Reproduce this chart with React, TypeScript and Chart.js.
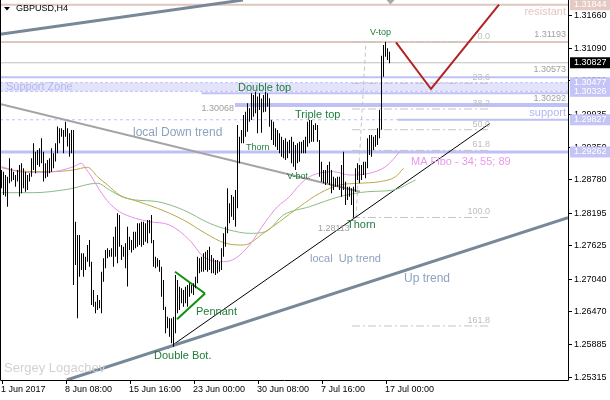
import React, { useEffect, useRef } from "react";
import { Chart, registerables } from "chart.js";

Chart.register(...registerables);

const FONT = "'Liberation Sans', Arial, sans-serif";

// GBPUSD H4 bars, index 0 = 1 Jun 2017 00:00
const highs = [
  1.28946, 1.28917, 1.28859, 1.28829, 1.29151, 1.28976, 1.28917, 1.28859, 1.28946, 1.29034,
  1.29063, 1.28976, 1.28917, 1.28859, 1.28888, 1.29151, 1.29414, 1.29268, 1.29297, 1.29326,
  1.29502, 1.29268, 1.29063, 1.29122, 1.29151, 1.29326, 1.29239, 1.29414, 1.29707, 1.29677,
  1.29677, 1.29648, 1.29794, 1.29677, 1.2959, 1.29648, 1.29648, 1.2804, 1.27806, 1.27806,
  1.27484, 1.27484, 1.27426, 1.27631, 1.27718, 1.27338, 1.26841, 1.26636, 1.26753, 1.26666,
  1.27163, 1.27397, 1.27543, 1.27572, 1.27543, 1.27572, 1.27777, 1.27952, 1.28186, 1.28157,
  1.27631, 1.27601, 1.2766, 1.27952, 1.27777, 1.2772, 1.27864, 1.27864, 1.2801, 1.2801,
  1.2804, 1.2804, 1.2801, 1.28069, 1.28069, 1.28157, 1.27718, 1.27426, 1.27396, 1.27367,
  1.2725, 1.27016, 1.26548, 1.26373, 1.26344, 1.26344, 1.26373, 1.27104, 1.27016, 1.26899,
  1.2687, 1.26841, 1.26899, 1.26929, 1.26958, 1.26929, 1.26958, 1.27075, 1.27426, 1.27396,
  1.27426, 1.27484, 1.27513, 1.27543, 1.27601, 1.27455, 1.27396, 1.27367, 1.27367, 1.27338,
  1.27572, 1.27835, 1.27952, 1.28624, 1.28361, 1.28507, 1.28478, 1.28595, 1.29736, 1.29531,
  1.29648, 1.29911, 1.29969, 1.30116, 1.30028, 1.30291, 1.30262, 1.3032, 1.30233, 1.30291,
  1.302, 1.3026, 1.3032, 1.30291, 1.30203, 1.29823, 1.29794, 1.29677, 1.29648, 1.29589,
  1.29531, 1.29472, 1.29501, 1.29443, 1.29472, 1.29531, 1.29443, 1.29384, 1.29414, 1.29443,
  1.29443, 1.29472, 1.29531, 1.29794, 1.29823, 1.29823, 1.29735, 1.29765, 1.29735, 1.29472,
  1.29092, 1.28946, 1.28946, 1.29034, 1.29092, 1.28946, 1.28829, 1.288, 1.28829, 1.28829,
  1.29034, 1.29267, 1.28741, 1.28653, 1.28653, 1.28624, 1.28653, 1.28975, 1.29063, 1.29034,
  1.29034, 1.29092, 1.29092, 1.29501, 1.2956, 1.2956, 1.29531, 1.2956, 1.29677, 1.29998,
  1.3095, 1.31139, 1.31193, 1.3108, 1.31022,
];
const lows = [
  1.28625, 1.28508, 1.28479, 1.28303, 1.28712, 1.28742, 1.28771, 1.28654, 1.28742, 1.28479,
  1.28537, 1.28625, 1.28566, 1.28595, 1.28742, 1.28829, 1.28946, 1.28888, 1.29034, 1.29005,
  1.29063, 1.28742, 1.288, 1.28829, 1.28888, 1.28917, 1.28976, 1.29093, 1.29239, 1.29414,
  1.29531, 1.29239, 1.29531, 1.29356, 1.2918, 1.29239, 1.26929, 1.2728, 1.26344, 1.27075,
  1.27192, 1.27075, 1.27192, 1.27338, 1.2725, 1.26578, 1.26549, 1.26432, 1.2649, 1.26519,
  1.26432, 1.26987, 1.27221, 1.27397, 1.27426, 1.27426, 1.2725, 1.27426, 1.27309, 1.27601,
  1.27367, 1.27426, 1.27221, 1.269, 1.27543, 1.275, 1.27543, 1.27572, 1.27601, 1.2763,
  1.27601, 1.2763, 1.27689, 1.2766, 1.27835, 1.2766, 1.2725, 1.27221, 1.2725, 1.27162,
  1.26724, 1.2649, 1.26081, 1.26168, 1.26022, 1.25905, 1.25847, 1.26081, 1.26431, 1.2649,
  1.26607, 1.26548, 1.26607, 1.26548, 1.26724, 1.26782, 1.26753, 1.2687, 1.26958, 1.27133,
  1.27162, 1.27162, 1.27192, 1.27162, 1.27192, 1.27133, 1.27133, 1.27104, 1.27133, 1.27162,
  1.27192, 1.27426, 1.27601, 1.27835, 1.2801, 1.28127, 1.28069, 1.27952, 1.28274, 1.29063,
  1.29414, 1.29414, 1.29531, 1.29619, 1.29794, 1.29823, 1.29882, 1.2994, 1.29589, 1.29999,
  1.296, 1.2996, 1.29969, 1.30057, 1.29706, 1.29472, 1.29384, 1.29355, 1.29297, 1.29238,
  1.2918, 1.29151, 1.29121, 1.29151, 1.29238, 1.29063, 1.29004, 1.28946, 1.29063, 1.29092,
  1.29238, 1.29238, 1.29238, 1.29355, 1.29414, 1.29443, 1.29443, 1.29648, 1.29443, 1.28829,
  1.28741, 1.28712, 1.28683, 1.28712, 1.28683, 1.28537, 1.28595, 1.28653, 1.28653, 1.28595,
  1.28478, 1.28595, 1.28332, 1.2842, 1.28478, 1.28332, 1.28113, 1.28566, 1.2877, 1.28712,
  1.2877, 1.28858, 1.288, 1.28975, 1.29209, 1.2918, 1.29297, 1.29355, 1.29384, 1.29501,
  1.2965, 1.30583, 1.30934, 1.30876, 1.30817,
];

// Moving averages (shifted): bar index / price
const ma34Idx = [0, 9, 19, 29, 36, 40, 42, 45, 49, 54, 59, 67, 74, 84, 94, 101, 111, 117, 124, 132, 138, 144, 149, 154, 166, 174, 184, 192, 197, 199];
const ma34Val = [1.29004, 1.28916, 1.28899, 1.28934, 1.29004, 1.29064, 1.28976, 1.28828, 1.28595, 1.28362, 1.28214, 1.28099, 1.28039, 1.27981, 1.27718, 1.27425, 1.27337, 1.27397, 1.2763, 1.28039, 1.28302, 1.28478, 1.28683, 1.28828, 1.28916, 1.28858, 1.28888, 1.29004, 1.29179, 1.29267];
const ma55Idx = [0, 9, 24, 36, 43, 48, 53, 59, 67, 78, 91, 102, 112, 121, 132, 139, 149, 159, 169, 179, 189, 197, 201];
const ma55Val = [1.28986, 1.28928, 1.28916, 1.28946, 1.28993, 1.28828, 1.28683, 1.28507, 1.28407, 1.28274, 1.28069, 1.27835, 1.2766, 1.2763, 1.27864, 1.28039, 1.28302, 1.28537, 1.28683, 1.28713, 1.28741, 1.28828, 1.28976];
const ma89Idx = [0, 16, 33, 48, 54, 61, 67, 78, 91, 104, 114, 124, 132, 141, 154, 169, 183, 196, 207];
const ma89Val = [1.28548, 1.28548, 1.28607, 1.28713, 1.28595, 1.28467, 1.2842, 1.2839, 1.28244, 1.28011, 1.27893, 1.27835, 1.27864, 1.28156, 1.28302, 1.28478, 1.28565, 1.28595, 1.28771];

// Axes
const timeTickIndex = [0, 32, 64, 96, 128, 160, 192];
const timeTickLabels = ["1 Jun 2017", "8 Jun 08:00", "15 Jun 16:00", "23 Jun 00:00", "30 Jun 08:00", "7 Jul 16:00", "17 Jul 00:00"];
const priceTicks = [1.3166, 1.3109, 1.3052, 1.29935, 1.2935, 1.2878, 1.28195, 1.27625, 1.2704, 1.2647, 1.25885, 1.25315];

// Horizontal levels
const resistantLevel = 1.31844;
const vTopLevel = 1.31193;
const bidPrice = 1.30827;
const level30573 = 1.30573;
const zoneTop = 1.30477;
const zoneBottom = 1.30326;
const level30292 = 1.30292;
const level30068 = 1.30085;
const supportLevel = 1.29827;
const support2Level = 1.29262;

// Fibonacci retracement
const fibLevels = [1.31193, 1.30466, 1.30016, 1.29653, 1.2929, 1.28113, 1.2621];
const fibNames = ["0.0", "23.6", "38.2", "50.0", "61.8", "100.0", "161.8"];
const fibFrom = 175.25;
const fibTo = 244.25;

// Trend lines: [barIndex, price]
const upTrend = [[32.6, 1.25262], [283.25, 1.28111]];
const topChannel = [[-0.75, 1.31327], [120.75, 1.31928]];
const localDown = [[-0.75, 1.30104], [179.25, 1.28565]];
const localUp = [[83.25, 1.25818], [244.25, 1.29765]];
const pennantUpper = [[86.75, 1.27162], [101.75, 1.26779]];
const pennantLower = [[87.75, 1.26327], [101.75, 1.26779]];
const forecastV = [[197.25, 1.31183], [214.75, 1.30367], [248.75, 1.31846]];
const fibBase = [[177.25, 1.28113], [182.25, 1.31193]];

const X_MIN = -0.75;
const X_MAX = 283.25;
const Y_MIN = 1.25262;
const Y_MAX = 1.31928;

const LAV = "#bfc0f6";
const PINK = "#e0c6be";
const GREEN_TXT = "#1f7d3a";
const SLATE_TXT = "#8ea2be";

// Text annotations anchored at [barIndex, price]
const notes: { t: string; i: number; p: number; c: string; s: number; a?: CanvasTextAlign }[] = [
  { t: "Support Zone", i: 2.25, p: 1.30411, c: "#b4b6f0", s: 11 },
  { t: "local Down trend", i: 65.75, p: 1.29595, c: SLATE_TXT, s: 12 },
  { t: "Double top", i: 118.25, p: 1.30385, c: GREEN_TXT, s: 11 },
  { t: "1.30068", i: 100, p: 1.30028, c: "#a0a0a0", s: 9 },
  { t: "Triple top", i: 146.75, p: 1.29911, c: GREEN_TXT, s: 11 },
  { t: "Thorn", i: 122.25, p: 1.29332, c: GREEN_TXT, s: 9 },
  { t: "V-bot.", i: 142.75, p: 1.28823, c: GREEN_TXT, s: 9 },
  { t: "1.28113", i: 158.25, p: 1.27916, c: "#a0a0a0", s: 9 },
  { t: "Thorn", i: 172.75, p: 1.27981, c: GREEN_TXT, s: 11 },
  { t: "local  Up trend", i: 154.25, p: 1.27385, c: SLATE_TXT, s: 11 },
  { t: "Up trend", i: 201.25, p: 1.27042, c: SLATE_TXT, s: 12 },
  { t: "Pennant", i: 97.25, p: 1.26455, c: GREEN_TXT, s: 11 },
  { t: "Double Bot.", i: 76.25, p: 1.25683, c: GREEN_TXT, s: 11 },
  { t: "Sergey Logachev", i: 1.25, p: 1.25472, c: "#d2d2d2", s: 13 },
  { t: "V-top", i: 184.25, p: 1.31349, c: GREEN_TXT, s: 9 },
  { t: "MA Fibo - 34; 55; 89", i: 204.75, p: 1.29086, c: "#e89ae8", s: 11 },
  { t: "resistant", i: 282.25, p: 1.31723, c: "#e2c6be", s: 11, a: "right" },
  { t: "support", i: 282.25, p: 1.29946, c: "#b4b6f0", s: 11, a: "right" },
  { t: "1.31193", i: 282.25, p: 1.31327, c: "#a0a0a0", s: 9, a: "right" },
  { t: "1.30573", i: 282.25, p: 1.307, c: "#a0a0a0", s: 9, a: "right" },
  { t: "1.30292", i: 282.25, p: 1.30192, c: "#a0a0a0", s: 9, a: "right" },
];

// Price marks on the right axis
const markValues = [resistantLevel, bidPrice, zoneTop, zoneBottom, supportLevel, support2Level];
const markBg = ["#e4cac2", "#000000", "#c4c5f6", "#c4c5f6", "#c4c5f6", "#c4c5f6"];

const pts = (arr: number[][]) => arr.map(([x, y]) => ({ x, y }));
const seg = (arr: number[][], color: string, width: number, dash: number[] = [], order = 5) => ({
  type: "line" as const,
  data: pts(arr),
  borderColor: color,
  borderWidth: width,
  borderDash: dash,
  pointRadius: 0,
  fill: false,
  tension: 0,
  order,
  borderCapStyle: "butt" as const,
});
const hline = (v: number, color: string, width: number, dash: number[] = [], from = X_MIN, to = X_MAX) =>
  seg([[from, v], [to, v]], color, width, dash, 6);
const ma = (idx: number[], val: number[], color: string) => ({
  type: "line" as const,
  data: idx.map((x, k) => ({ x, y: val[k] })),
  borderColor: color,
  borderWidth: 1,
  pointRadius: 0,
  fill: false,
  cubicInterpolationMode: "monotone" as const,
  order: 3,
});

const overlay = {
  id: "overlay",
  beforeDatasetsDraw(chart: any) {
    const { ctx, chartArea: a, scales } = chart;
    const y = scales.y;
    const t = y.getPixelForValue(zoneTop);
    const b = y.getPixelForValue(zoneBottom);
    ctx.save();
    ctx.fillStyle = "#e3e4fb";
    ctx.fillRect(a.left, t, a.right - a.left, b - t);
    ctx.restore();
  },
  afterDatasetsDraw(chart: any) {
    const { ctx, scales } = chart;
    const x = scales.x;
    const y = scales.y;
    ctx.save();
    ctx.textBaseline = "middle";
    notes.forEach((n) => {
      ctx.font = `${n.s}px ${FONT}`;
      ctx.fillStyle = n.c;
      ctx.textAlign = n.a || "left";
      ctx.fillText(n.t, x.getPixelForValue(n.i), y.getPixelForValue(n.p));
    });
    ctx.font = `9px ${FONT}`;
    ctx.fillStyle = "#bdbdbd";
    ctx.textAlign = "right";
    ctx.textBaseline = "bottom";
    fibLevels.forEach((v, k) => {
      ctx.fillText(fibNames[k], x.getPixelForValue(fibTo), y.getPixelForValue(v) - 1);
    });
    ctx.restore();
  },
  afterDraw(chart: any) {
    const { ctx, chartArea: a, scales } = chart;
    const x = scales.x;
    const y = scales.y;
    ctx.save();
    ctx.strokeStyle = "#000";
    ctx.lineWidth = 1;
    ctx.beginPath();
    ctx.moveTo(a.left + 0.5, a.top);
    ctx.lineTo(a.left + 0.5, a.bottom + 0.5);
    ctx.lineTo(a.right + 0.5, a.bottom + 0.5);
    ctx.lineTo(a.right + 0.5, a.top);
    ctx.stroke();
    ctx.font = `9px ${FONT}`;
    ctx.textBaseline = "middle";
    ctx.textAlign = "left";
    ctx.fillStyle = "#000";
    priceTicks.forEach((v) => {
      const py = Math.round(y.getPixelForValue(v)) + 0.5;
      ctx.beginPath();
      ctx.moveTo(a.right, py);
      ctx.lineTo(a.right + 4, py);
      ctx.stroke();
      ctx.fillText(v.toFixed(5), a.right + 6, py);
    });
    markValues.forEach((v, k) => {
      const py = y.getPixelForValue(v);
      ctx.fillStyle = markBg[k];
      ctx.fillRect(a.right + 2, py - 5.5, 42, 11);
      ctx.fillStyle = "#ffffff";
      ctx.fillText(v.toFixed(5), a.right + 6, py);
    });
    ctx.fillStyle = "#000";
    ctx.textAlign = "left";
    timeTickIndex.forEach((idx, k) => {
      const px = Math.round(x.getPixelForValue(idx)) + 0.5;
      ctx.beginPath();
      ctx.moveTo(px, a.bottom);
      ctx.lineTo(px, a.bottom + 4);
      ctx.stroke();
      ctx.fillText(timeTickLabels[k], px - 1.5, a.bottom + 9.5);
    });
    ctx.beginPath();
    ctx.moveTo(4, 7);
    ctx.lineTo(10, 7);
    ctx.lineTo(7, 10.5);
    ctx.closePath();
    ctx.fill();
    ctx.fillText("GBPUSD,H4", 16, 8.5);
    ctx.fillStyle = "#a8a8a8";
    ctx.beginPath();
    ctx.moveTo(386.5, 0);
    ctx.lineTo(394.5, 0);
    ctx.lineTo(390.5, 4.5);
    ctx.closePath();
    ctx.fill();
    ctx.restore();
  },
};

export default function App() {
  const ref = useRef<HTMLCanvasElement | null>(null);
  useEffect(() => {
    document.body.style.margin = "0";
    const canvas = ref.current;
    if (!canvas) return;
    const bars = highs.map((h, i) => ({ x: i, y: [lows[i], h] }));
    const fibDs = fibLevels.map((v) => hline(v, "#c4c4c4", 1, [8, 3, 2, 3], fibFrom, fibTo));
    const chart = new Chart(canvas, {
      type: "bar",
      data: {
        datasets: [
          {
            type: "bar",
            data: bars as any,
            backgroundColor: "#000000",
            borderWidth: 0,
            barThickness: 1,
            grouped: false,
            inflateAmount: 0,
            order: 0,
          } as any,
          ma(ma34Idx, ma34Val, "#e68ee6"),
          ma(ma55Idx, ma55Val, "#b9aa48"),
          ma(ma89Idx, ma89Val, "#86bd86"),
          seg(upTrend, "#788898", 3, [], 4),
          seg(topChannel, "#788898", 3, [], 4),
          seg(localDown, "#a4a4a4", 2, [], 4),
          seg(localUp, "#000000", 1, [], 4),
          seg(pennantUpper, "#109010", 2, [], 1),
          seg(pennantLower, "#109010", 2, [], 1),
          seg(forecastV, "#b22222", 2, [], 1),
          seg(fibBase, "#c4c4c4", 1, [4, 3], 5),
          ...fibDs,
          hline(resistantLevel, PINK, 2),
          hline(vTopLevel, PINK, 2),
          hline(bidPrice, "#c0c0c0", 1),
          hline(level30573, LAV, 2),
          hline(zoneTop, LAV, 1, [3, 2]),
          hline(zoneBottom, LAV, 1, [3, 2]),
          hline(level30292, LAV, 2, [], 100),
          hline(level30068, LAV, 4, [], 116.75),
          hline(supportLevel, LAV, 1, [3, 3]),
          hline(supportLevel, LAV, 2, [], 198.25),
          hline(support2Level, LAV, 3),
        ] as any,
      },
      options: {
        animation: false,
        responsive: false,
        maintainAspectRatio: false,
        events: [],
        layout: { padding: { left: 0, right: 42, top: 0, bottom: 20 } },
        plugins: {
          legend: { display: false },
          tooltip: { enabled: false },
          title: { display: false },
        },
        scales: {
          x: { type: "linear", min: X_MIN, max: X_MAX, display: false, offset: false, grid: { offset: false } },
          y: { type: "linear", min: Y_MIN, max: Y_MAX, display: false, offset: false },
        },
      },
      plugins: [overlay],
    });
    return () => chart.destroy();
  }, []);
  return (
    <div style={{ position: "fixed", left: 0, top: 0, width: 610, height: 400, background: "#fff" }}>
      <canvas ref={ref} width={610} height={400} style={{ width: 610, height: 400, display: "block" }} />
    </div>
  );
}
